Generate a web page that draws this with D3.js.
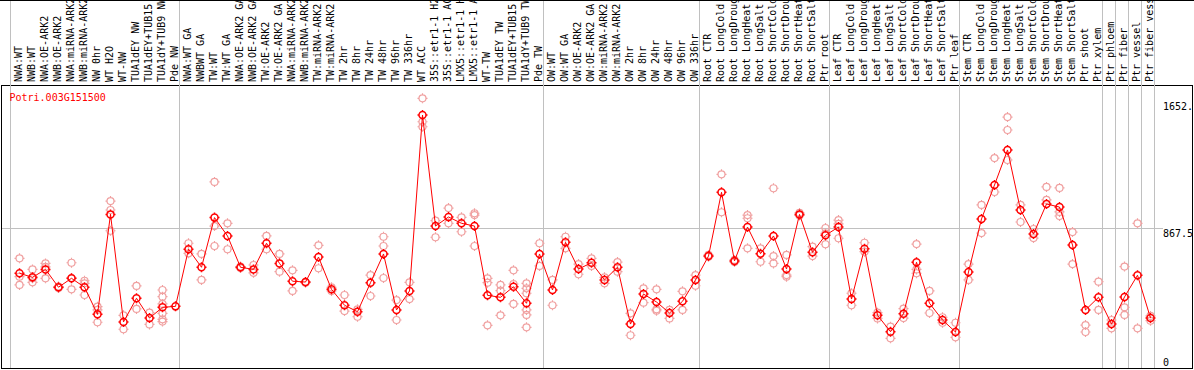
<!DOCTYPE html>
<html>
<head>
<meta charset="utf-8">
<script src="https://cdn.jsdelivr.net/npm/d3@7/dist/d3.min.js"></script>
<style>
  body { margin: 0; background: #fff; }
  text { font-family: 'DejaVu Sans Mono', monospace; font-size: 10px; }
</style>
</head>
<body>
<div id="chart"></div>
<script>
// Gene and sample names (labels are cut to 14 characters like the original)
var gene = 'Potri.003G151500'

var labels = [
  'NWA:WT', 'NWB:WT', 'NWA:OE-ARK2', 'NWB:OE-ARK2', 'NWA:miRNA-ARK2', 'NWB:miRNA-ARK2',
  'NW 0hr', 'WT H2O', 'WT-NW', 'TUA1dEY NW', 'TUA1dEY+TUB15', 'TUA1dY+TUB9 NW', 'Pde NW',
  'NWA:WT GA', 'NWBWT GA', 'TW:WT', 'TW:WT GA', 'NWA:OE-ARK2 GA', 'NWB:OE-ARK2 GA',
  'TW:OE-ARK2', 'TW:OE-ARK2 GA', 'NWA:miRNA-ARK2', 'NWB:miRNA-ARK2', 'TW:miRNA-ARK2',
  'TW:miRNA-ARK2', 'TW 2hr', 'TW 8hr', 'TW 24hr', 'TW 48hr', 'TW 96hr', 'TW 336hr',
  'WT ACC', '35S::etr1-1 H2', '35S::etr1-1 AC', 'LMX5::etr1-1 H', 'LMX5::etr1-1 A',
  'WT-TW', 'TUA1dEY TW', 'TUA1dEY+TUB15', 'TUA1dY+TUB9 TW', 'Pde TW',
  'OW:WT', 'OW:WT GA', 'OW:OE-ARK2', 'OW:OE-ARK2 GA', 'OW:miRNA-ARK2', 'OW:miRNA-ARK2',
  'OW 2hr', 'OW 8hr', 'OW 24hr', 'OW 48hr', 'OW 96hr', 'OW 336hr',
  'Root CTR', 'Root LongCold', 'Root LongDroug', 'Root LongHeat', 'Root LongSalt',
  'Root ShortCold', 'Root ShortDrou', 'Root ShortHeat', 'Root ShortSalt', 'Ptr root',
  'Leaf CTR', 'Leaf LongCold', 'Leaf LongDroug', 'Leaf LongHeat', 'Leaf LongSalt',
  'Leaf ShortCold', 'Leaf ShortDrou', 'Leaf ShortHeat', 'Leaf ShortSalt', 'Ptr leaf',
  'Stem CTR', 'Stem LongCold', 'Stem LongDroug', 'Stem LongHeat', 'Stem LongSalt',
  'Stem ShortCold', 'Stem ShortDrou', 'Stem ShortHeat', 'Stem ShortSalt', 'Ptr shoot',
  'Ptr xylem', 'Ptr phloem', 'Ptr fiber', 'Ptr vessel', 'Ptr fiber vess'
]

// mean expression per sample (red line)
var means = [
  590, 565, 614, 504, 559, 504, 337, 953, 290, 436, 314, 380, 386,
  738, 627, 933, 820, 627, 614, 775, 651, 541, 536, 690, 491, 393, 353, 532, 709,
  364, 481, 1565, 881, 937, 898, 881, 454, 442, 507, 405, 709,
  487, 781, 616, 655, 549, 627, 277, 462, 413, 345, 417, 549,
  696, 1089, 666, 875, 711, 820, 616, 953, 719, 824,
  875, 431, 741, 331, 230, 341, 658, 405, 302, 228,
  598, 925, 1134, 1350, 980, 832, 1017, 998, 764, 364, 442,
  277, 444, 578, 314
]

// replicate values per sample (pink circles)
var replicates = [
  [682, 569, 518], [614, 534, 560], [651, 559, 630], [504, 500, 508], [655, 491, 561],
  [544, 528, 456], [384, 364, 288], [1035, 980, 852], [331, 245], [512, 370],
  [347, 275], [487, 446, 401, 343, 306, 292], [],
  [775, 713], [709, 549], [1153, 881, 758], [898, 738], [631, 622], [641, 593],
  [820, 738], [709, 600], [608, 481], [536, 532], [762, 621], [504, 481],
  [456, 357], [368, 322], [579, 450], [815, 758, 561],
  [425, 302], [534, 431], [1668, 1524, 1493], [914, 812], [992, 898], [935, 846],
  [960, 949, 758], [559, 532, 269], [518, 483, 331], [608, 524, 401],
  [528, 497, 467, 364, 333, 257], [775, 635],
  [549, 393], [815, 744], [647, 584], [682, 635], [565, 528], [659, 600],
  [343, 208], [497, 409], [491, 368, 359], [364, 312], [479, 364], [579, 513],
  [692, 703], [1200, 966], [672, 659], [949, 929, 744], [744, 661],
  [1114, 696, 651], [703, 579, 569], [962, 946], [754, 696], [869, 836, 769],
  [918, 894, 806], [467, 393], [778, 723], [347, 312], [261, 189],
  [372, 314], [770, 614, 590], [481, 345], [319, 285], [285, 195],
  [647, 549], [1011, 838], [1300, 1091], [1553, 1473, 1288], [1011, 906],
  [863, 807], [1122, 1042], [1116, 968, 943], [844, 647], [271, 228], [538, 364],
  [302, 251], [631, 380, 333], [898, 251], [327, 298]
]

// group boundaries (column index where a gray rule is drawn)
var separators = [0, 13, 41, 53, 63, 73, 84, 85, 86, 87, 88]

var tickValues = [1652, 867.5, 0]
var tickLabels = ['1652.', '867.5', '0']

var width = 1194
var height = 370
var headerHeight = 85
var plotBottom = 369

var svg = d3
  .select('#chart')
  .append('svg')
  .attr('width', width)
  .attr('height', height)

// column index -> x of the left edge of that column
var xPositionScale = d3
  .scaleLinear()
  .domain([0, labels.length])
  .range([10.5, 10.5 + 13 * labels.length])

var yPositionScale = d3
  .scaleLinear()
  .domain([0, 1735])
  .range([plotBottom, 87.5])

var pointX = i => xPositionScale(i) + 9

// circle with four little ticks, like the bitmap markers
function marker(r) {
  var t = r + 1.5
  return 'M' + r + ',0A' + r + ',' + r + ' 0 1,1 ' + -r + ',0A' + r + ',' + r + ' 0 1,1 ' + r + ',0' +
    'M0,' + -r + 'V' + -t + 'M0,' + r + 'V' + t + 'M' + -r + ',0H' + -t + 'M' + r + ',0H' + t
}

// frame lines
svg
  .append('line')
  .attr('x1', 0)
  .attr('x2', width)
  .attr('y1', 0.5)
  .attr('y2', 0.5)
  .attr('stroke', '#000')

svg
  .append('rect')
  .attr('x', 1.5)
  .attr('y', headerHeight + 0.5)
  .attr('width', 1191)
  .attr('height', plotBottom - headerHeight - 1)
  .attr('fill', 'none')
  .attr('stroke', '#000')

// gray rules between groups
svg
  .selectAll('.separator')
  .data(separators)
  .enter()
  .append('line')
  .attr('class', 'separator')
  .attr('x1', d => xPositionScale(d))
  .attr('x2', d => xPositionScale(d))
  .attr('y1', 1)
  .attr('y2', plotBottom - 1)
  .attr('stroke', '#c0c0c0')

// mid gridline
svg
  .append('line')
  .attr('x1', 2)
  .attr('x2', 1163)
  .attr('y1', Math.round(yPositionScale(867.5)) + 0.5)
  .attr('y2', Math.round(yPositionScale(867.5)) + 0.5)
  .attr('stroke', '#c0c0c0')

// sample names, rotated
svg
  .selectAll('.sample-label')
  .data(labels)
  .enter()
  .append('text')
  .attr('class', 'sample-label')
  .attr('transform', (d, i) => `translate(${xPositionScale(i) + 11.5}, 82) rotate(-90)`)
  .attr('fill', '#000')
  .text(d => d)

// y labels on the right
svg
  .selectAll('.y-label')
  .data(tickValues)
  .enter()
  .append('text')
  .attr('class', 'y-label')
  .attr('x', 1163)
  .attr('y', d => Math.min(yPositionScale(d) + 9, plotBottom - 3))
  .attr('fill', '#000')
  .text((d, i) => tickLabels[i])

svg
  .append('text')
  .attr('x', 9.5)
  .attr('y', 100.5)
  .attr('fill', '#ff0000')
  .text(gene)

// replicate circles
var flat = []
replicates.forEach((list, i) => {
  list.forEach(v => flat.push({ i: i, value: v }))
})

svg
  .selectAll('.replicate')
  .data(flat)
  .enter()
  .append('path')
  .attr('class', 'replicate')
  .attr('d', marker(3.5))
  .attr('transform', d => `translate(${pointX(d.i)}, ${yPositionScale(d.value)})`)
  .attr('fill', 'none')
  .attr('stroke', '#f0a0a0')
  .attr('stroke-width', 1.2)

var line = d3
  .line()
  .x((d, i) => pointX(i))
  .y(d => yPositionScale(d))

svg
  .append('path')
  .datum(means)
  .attr('d', line)
  .attr('fill', 'none')
  .attr('stroke', '#ff0000')
  .attr('stroke-width', 1)

svg
  .selectAll('.mean')
  .data(means)
  .enter()
  .append('path')
  .attr('class', 'mean')
  .attr('d', marker(3.5))
  .attr('transform', (d, i) => `translate(${pointX(i)}, ${yPositionScale(d)})`)
  .attr('fill', 'none')
  .attr('stroke', '#ff0000')
  .attr('stroke-width', 1.5)
</script>
</body>
</html>
